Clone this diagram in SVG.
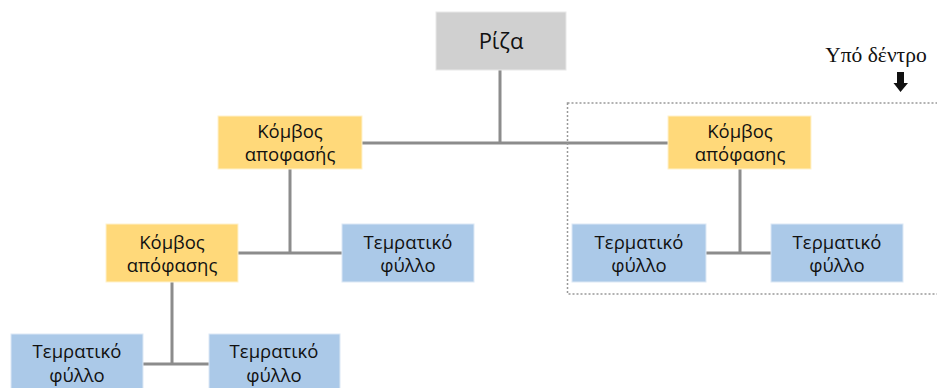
<svg xmlns="http://www.w3.org/2000/svg" width="937" height="388" viewBox="0 0 937 388">
<style>
.root{fill:#d0d0d0;stroke:#e8e8e8;stroke-width:1}
.dec{fill:#ffd97a;stroke:#fff2cc;stroke-width:1}
.leaf{fill:#abc9e8;stroke:#dce8f5;stroke-width:1}
.t{font-family:"Open Sans","Noto Sans",sans-serif;font-size:18.5px;fill:#111;text-anchor:middle}
.big{font-size:22px}
.conn{stroke:#8c8c8c;stroke-width:3;fill:none}
</style>
<g id="connectors">
<path class="conn" d="M500 70 V143 M362 143 H668 M290 169 V253 M238 253 H342 M740 169 V253 M706 253 H771 M172 282 V364 M143 364 H209"/>
</g>
<g id="subtree-box">
<rect x="567.5" y="103" width="380" height="191" fill="none" stroke="#999" stroke-width="1.5" stroke-dasharray="2,2"/>
<text x="876" y="62" font-family="Liberation Serif,serif" font-size="21.5" text-anchor="middle" fill="#111">Υπό δέντρο</text>
<polygon points="897,72 904,72 904,83 908,83 900.5,92 893.5,83 897,83" fill="#111"/>
</g>
<g id="root">
<rect class="root" x="436" y="12" width="130" height="58"/>
<text class="t big" x="501" y="49">Ρίζα</text>
</g>
<g id="dec1">
<rect class="dec" x="218" y="116" width="144" height="53"/>
<text class="t" x="290" y="137.5">Κόμβος</text>
<text class="t" x="290" y="161">αποφασής</text>
</g>
<g id="dec2">
<rect class="dec" x="668" y="116" width="143" height="53"/>
<text class="t" x="740" y="137.5">Κόμβος</text>
<text class="t" x="740" y="161">απόφασης</text>
</g>
<g id="dec3">
<rect class="dec" x="106" y="224" width="132" height="58"/>
<text class="t" x="172" y="248.5">Κόμβος</text>
<text class="t" x="172" y="272">απόφασης</text>
</g>
<g id="leaf1">
<rect class="leaf" x="342" y="224" width="132" height="58"/>
<text class="t" x="408" y="248.5">Τεμρατικό</text>
<text class="t" x="408" y="272">φύλλο</text>
</g>
<g id="leaf2">
<rect class="leaf" x="572" y="224" width="134" height="58"/>
<text class="t" x="639" y="248.5">Τερματικό</text>
<text class="t" x="639" y="272">φύλλο</text>
</g>
<g id="leaf3">
<rect class="leaf" x="771" y="224" width="132" height="58"/>
<text class="t" x="837" y="248.5">Τερματικό</text>
<text class="t" x="837" y="272">φύλλο</text>
</g>
<g id="leaf4">
<rect class="leaf" x="11" y="334" width="132" height="58"/>
<text class="t" x="77" y="358">Τεμρατικό</text>
<text class="t" x="77" y="381.5">φύλλο</text>
</g>
<g id="leaf5">
<rect class="leaf" x="209" y="334" width="131" height="58"/>
<text class="t" x="274" y="358">Τεμρατικό</text>
<text class="t" x="274" y="381.5">φύλλο</text>
</g>
</svg>
